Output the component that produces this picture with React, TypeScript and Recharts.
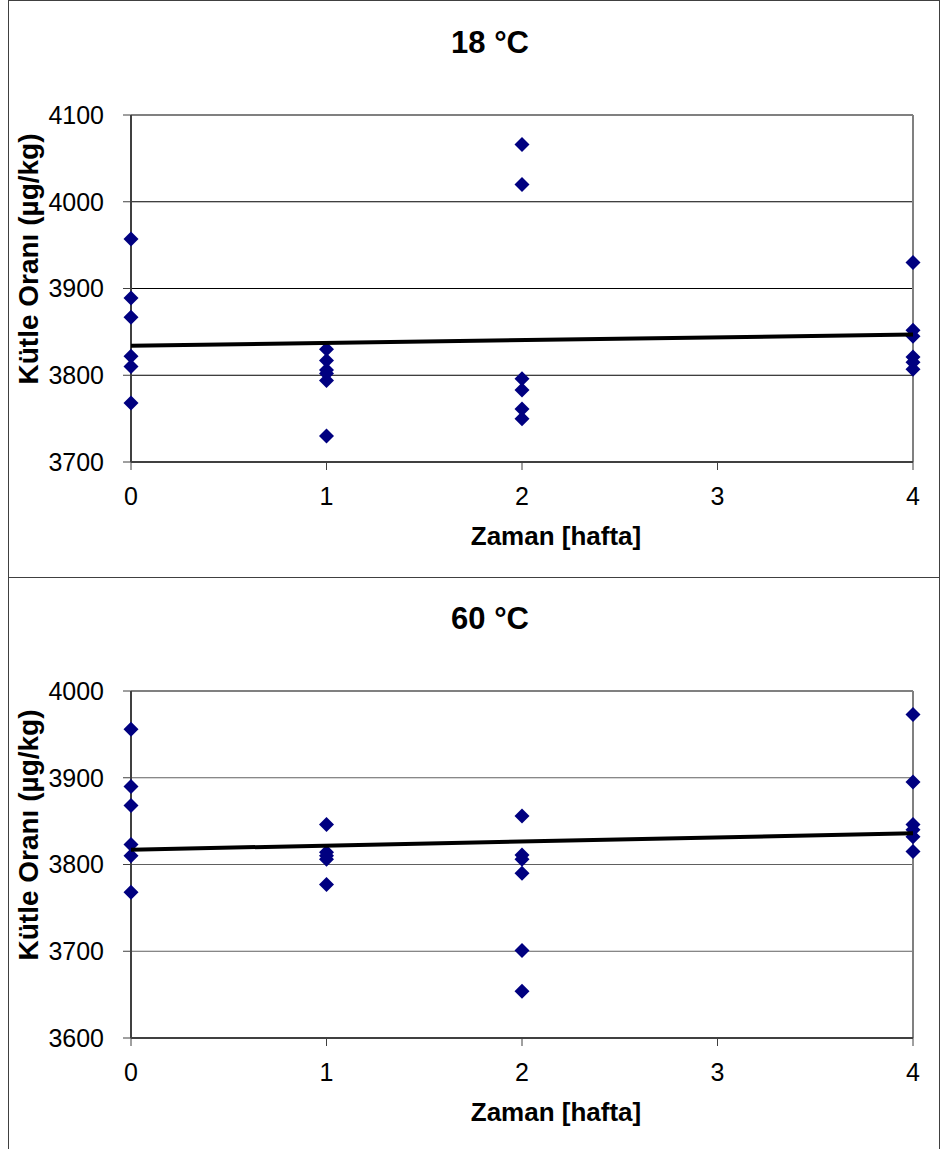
import React from "react";
import {
  ScatterChart,
  Scatter,
  XAxis,
  YAxis,
  CartesianGrid,
  ReferenceLine,
} from "recharts";

// ---------------------------------------------------------------------------
// Data
// ---------------------------------------------------------------------------

const WEEKS = [0, 1, 2, 4];
const X_TICKS = [0, 1, 2, 3, 4];

// 18 °C
const T18_W0 = [3957, 3889, 3867, 3822, 3810, 3768];
const T18_W1 = [3830, 3817, 3806, 3802, 3794, 3730];
const T18_W2 = [4066, 4020, 3796, 3783, 3761, 3750];
const T18_W4 = [3930, 3852, 3845, 3821, 3815, 3807];
const T18_TREND = [3834, 3847];
const T18_TICKS = [3700, 3800, 3900, 4000, 4100];

// 60 °C
const T60_W0 = [3956, 3890, 3868, 3823, 3810, 3768];
const T60_W1 = [3846, 3814, 3810, 3806, 3777];
const T60_W2 = [3856, 3811, 3806, 3790, 3701, 3654];
const T60_W4 = [3973, 3895, 3846, 3840, 3832, 3815];
const T60_TREND = [3817, 3836];
const T60_TICKS = [3600, 3700, 3800, 3900, 4000];

const FONT = '"Liberation Sans", Arial, Helvetica, sans-serif';
const NAVY = "#000080";

// ---------------------------------------------------------------------------
// Helpers
// ---------------------------------------------------------------------------

function toPoints(groups: number[][]) {
  const pts: { x: number; y: number }[] = [];
  groups.forEach((vals, i) => {
    vals.forEach((v) => pts.push({ x: WEEKS[i], y: v }));
  });
  return pts;
}

function Diamond(props: any) {
  const { cx, cy } = props;
  if (cx == null || cy == null) return <g />;
  const r = 7.5;
  return (
    <polygon
      points={`${cx},${cy - r} ${cx + r},${cy} ${cx},${cy + r} ${cx - r},${cy}`}
      fill={NAVY}
    />
  );
}

type PanelProps = {
  title: string;
  groups: number[][];
  trend: number[];
  yTicks: number[];
  top: number;
  height: number;
  gridColor: string;
};

function Panel({ title, groups, trend, yTicks, top, height, gridColor }: PanelProps) {
  const points = toPoints(groups);
  const trendPts = [
    { x: X_TICKS[0], y: trend[0] },
    { x: X_TICKS[X_TICKS.length - 1], y: trend[1] },
  ];
  const yMin = yTicks[0];
  const yMax = yTicks[yTicks.length - 1];

  return (
    <div
      style={{
        position: "absolute",
        left: 0,
        top,
        width: 940,
        height,
      }}
    >
      <ScatterChart
        width={940}
        height={height}
        margin={{ top: 115, right: 27, bottom: 0, left: 0 }}
      >
        <CartesianGrid vertical={false} stroke={gridColor} strokeWidth={1} />
        <XAxis
          type="number"
          dataKey="x"
          domain={[0, 4]}
          ticks={X_TICKS}
          interval={0}
          height={height - 462}
          tickSize={8}
          tickMargin={17}
          axisLine={{ stroke: "#404040", strokeWidth: 2 }}
          tickLine={{ stroke: "#404040", strokeWidth: 1 }}
          tick={{ fill: "#000", fontSize: 25, fontFamily: FONT }}
        />
        <YAxis
          type="number"
          dataKey="y"
          domain={[yMin, yMax]}
          ticks={yTicks}
          interval={0}
          width={131}
          tickSize={8}
          tickMargin={19}
          axisLine={{ stroke: "#404040", strokeWidth: 2 }}
          tickLine={{ stroke: "#404040", strokeWidth: 1 }}
          tick={{ fill: "#000", fontSize: 25, fontFamily: FONT }}
        />
        <ReferenceLine y={yMax} stroke="#808080" strokeWidth={2} />
        <ReferenceLine x={4} stroke="#808080" strokeWidth={2} />
        <Scatter
          data={points}
          shape={Diamond}
          isAnimationActive={false}
        />
        <Scatter
          data={trendPts}
          line={{ stroke: "#000", strokeWidth: 4 }}
          shape={() => <g />}
          isAnimationActive={false}
        />
      </ScatterChart>

      <svg
        width={940}
        height={height}
        style={{ position: "absolute", left: 0, top: 0, pointerEvents: "none" }}
      >
        <text
          x={490}
          y={53}
          textAnchor="middle"
          fontFamily={FONT}
          fontWeight="bold"
          fontSize={31}
          fill="#000"
        >
          {title}
        </text>
        <text
          x={556}
          y={545}
          textAnchor="middle"
          fontFamily={FONT}
          fontWeight="bold"
          fontSize={26}
          fill="#000"
        >
          Zaman [hafta]
        </text>
        <text
          transform="translate(38, 259) rotate(-90)"
          textAnchor="middle"
          fontFamily={FONT}
          fontWeight="bold"
          fontSize={28}
          fill="#000"
        >
          Kütle Oranı (µg/kg)
        </text>
      </svg>
    </div>
  );
}

export default function App() {
  return (
    <div
      style={{
        position: "absolute",
        left: 0,
        top: 0,
        width: 940,
        height: 1149,
        overflow: "hidden",
        background: "#fff",
      }}
    >
      <Panel
        title="18 °C"
        groups={[T18_W0, T18_W1, T18_W2, T18_W4]}
        trend={T18_TREND}
        yTicks={T18_TICKS}
        top={0}
        height={577}
        gridColor="#000"
      />
      <Panel
        title="60 °C"
        groups={[T60_W0, T60_W1, T60_W2, T60_W4]}
        trend={T60_TREND}
        yTicks={T60_TICKS}
        top={576}
        height={573}
        gridColor="#606060"
      />
      {/* outer frames */}
      <div
        style={{
          position: "absolute",
          left: 8,
          top: 0,
          width: 930,
          height: 576,
          border: "1px solid #404040",
          pointerEvents: "none",
        }}
      />
      <div
        style={{
          position: "absolute",
          left: 8,
          top: 577,
          width: 930,
          height: 571,
          border: "1px solid #404040",
          pointerEvents: "none",
        }}
      />
    </div>
  );
}
